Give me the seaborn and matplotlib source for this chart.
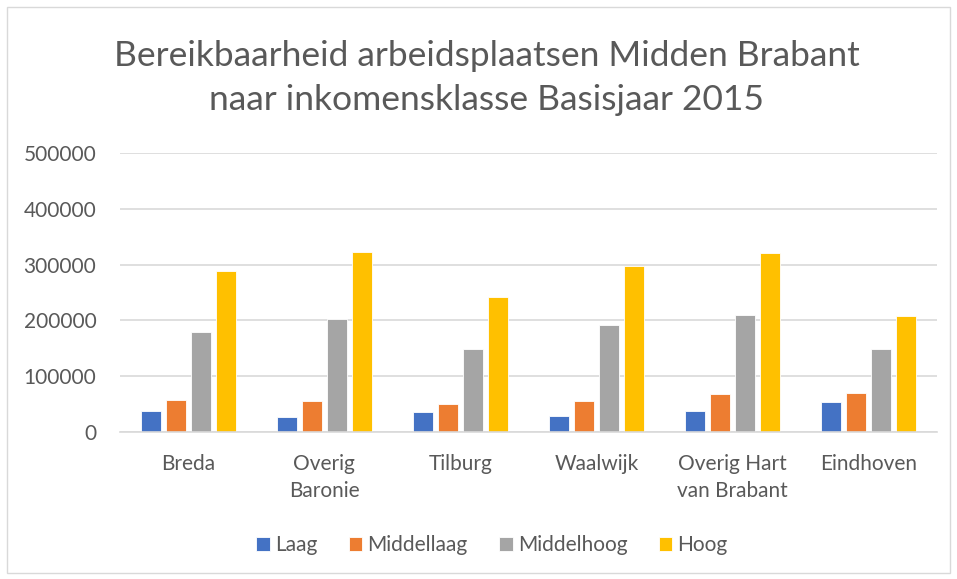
import pandas as pd
import matplotlib.pyplot as plt
import seaborn as sns
from matplotlib.patches import Rectangle

regio = ["Breda", "Overig\nBaronie", "Tilburg", "Waalwijk", "Overig Hart\nvan Brabant", "Eindhoven"]
klassen = ["Laag", "Middellaag", "Middelhoog", "Hoog"]
laag = [37600, 26000, 36000, 28600, 37000, 53000]
middellaag = [58000, 55500, 50000, 56000, 67400, 70400]
middelhoog = [179500, 202000, 148500, 192600, 210500, 149000]
hoog = [288000, 323000, 242000, 298000, 321000, 208700]
kleuren = ["#4472C4", "#ED7D31", "#A5A5A5", "#FFC000"]

rows = []
for k, vals in zip(klassen, [laag, middellaag, middelhoog, hoog]):
    for r, v in zip(regio, vals):
        rows.append({"regio": r, "klasse": k, "waarde": v})
df = pd.DataFrame(rows)

sns.set_theme(style="white")
plt.rcParams['font.family'] = ['Lato', 'DejaVu Sans']
tekst = "#595959"

fig = plt.figure(figsize=(9.57, 5.79), dpi=100)
ax = fig.add_axes([120 / 957, 1 - 432 / 579, 817 / 957, 279 / 579])

sns.barplot(data=df, x="regio", y="waarde", hue="klasse", order=regio,
            hue_order=klassen, palette=kleuren, width=0.735, gap=0.2,
            ax=ax, saturation=1, edgecolor="white", linewidth=0.6)

ax.set_ylim(0, 500000)
ax.set_yticks(range(0, 500001, 100000))
ax.set_yticklabels([str(v) for v in range(0, 500001, 100000)])
ax.set_xlim(-0.5, 5.5)
ax.yaxis.grid(True, color="#D9D9D9", linewidth=1.2)
ax.set_axisbelow(True)
for s in ["top", "right", "left"]:
    ax.spines[s].set_visible(False)
ax.spines["bottom"].set_color("#D9D9D9")
ax.spines["bottom"].set_linewidth(1.2)
ax.tick_params(axis="both", length=0, labelsize=15, colors=tekst)
ax.tick_params(axis="x", pad=16)
ax.tick_params(axis="y", pad=17)
for lbl in ax.get_xticklabels():
    lbl.set_linespacing(1.45)
ax.set_xlabel("")
ax.set_ylabel("")

leg = ax.legend(loc="center", bbox_to_anchor=(492 / 957, 1 - 545 / 579),
                bbox_transform=fig.transFigure, ncol=4, frameon=False,
                fontsize=15, handlelength=0.65, handleheight=0.65,
                handletextpad=0.25, columnspacing=1.5)
for t in leg.get_texts():
    t.set_color(tekst)

fig.text(487 / 957, 1 - 78 / 579,
         "Bereikbaarheid arbeidsplaatsen Midden Brabant\nnaar inkomensklasse Basisjaar 2015",
         ha="center", va="center", fontsize=25.5, color=tekst, linespacing=1.5)

fig.patches.append(Rectangle((7 / 957, 1 - 573 / 579), 943 / 957, 566 / 579,
                             transform=fig.transFigure, fill=False,
                             edgecolor="#D9D9D9", linewidth=1))

fig.savefig("out.png", dpi=100)
